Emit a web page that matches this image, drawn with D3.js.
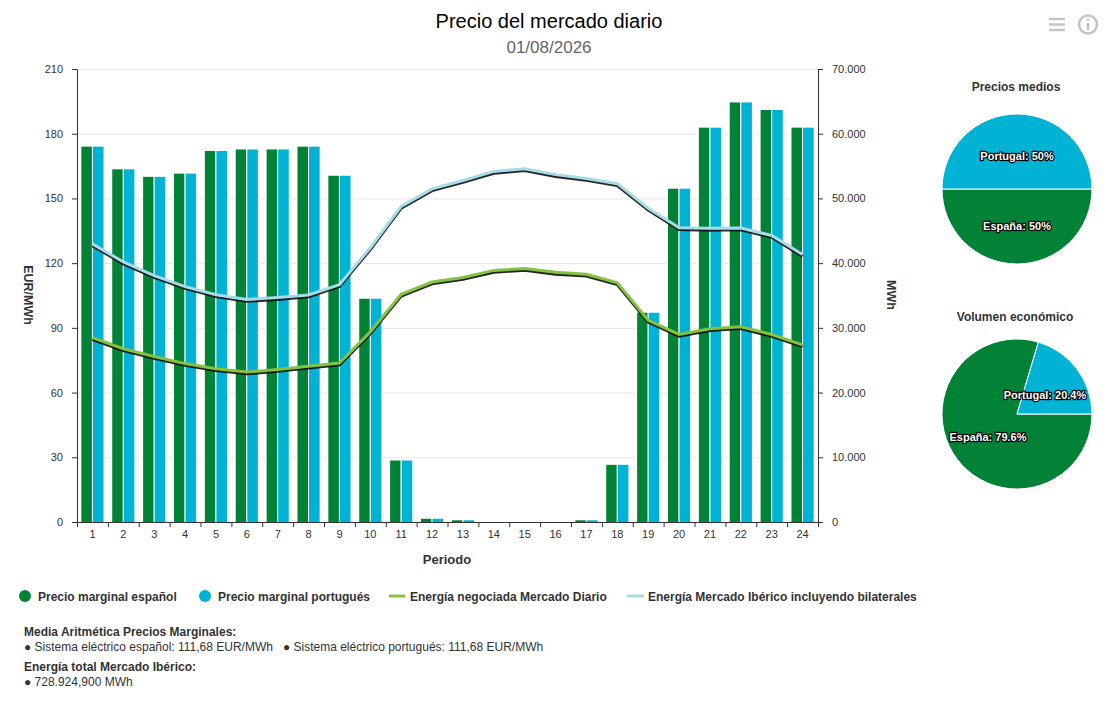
<!DOCTYPE html>
<html lang="es">
<head>
<meta charset="utf-8">
<title>Precio del mercado diario</title>
<script src="https://cdn.jsdelivr.net/npm/d3@7"></script>
<style>
    html, body { margin: 0; padding: 0; background: #fff; }
    svg { display: block; font-family: "Liberation Sans", Arial, sans-serif; }
    .axis text { font-size: 11px; fill: #333; font-family: "Liberation Sans", Arial, sans-serif; }
    .axis path, .axis line { stroke: #333; }
    .grid line { stroke: #e6e6e6; }
    .grid path { display: none; }
    .lbl { font-size: 12px; font-weight: bold; fill: #333; }
    .pie-label { font-size: 11px; font-weight: bold; fill: #fff; stroke: #000; stroke-width: 2.4px; paint-order: stroke; stroke-linejoin: round; }
</style>
</head>
<body>
<svg id="chart" width="1117" height="713"></svg>
<script>
'use strict';

const periods = d3.range(1, 25);
const precio_es = [174, 163.5, 160, 161.5, 172, 172.7, 172.7, 174, 160.5, 103.5, 28.5, 1.5, 0.8, 0, 0, 0, 0.8, 26.5, 97, 154.5, 182.8, 194.5, 191, 182.8];
const precio_pt = [174, 163.5, 160, 161.5, 172, 172.7, 172.7, 174, 160.5, 103.5, 28.5, 1.5, 0.8, 0, 0, 0, 0.8, 26.5, 97, 154.5, 182.8, 194.5, 191, 182.8];
const energia_diario = [28400, 26700, 25500, 24400, 23600, 23100, 23500, 24000, 24500, 29300, 35100, 37000, 37700, 38800, 39100, 38500, 38200, 36900, 31100, 28900, 29800, 30100, 28900, 27300];
const energia_iberico = [42900, 40100, 38000, 36300, 35050, 34300, 34600, 35000, 36600, 42300, 48700, 51400, 52700, 54100, 54500, 53600, 53000, 52200, 48400, 45400, 45300, 45350, 44200, 41250];
const pie_precios = [{ name: 'España', value: 50 }, { name: 'Portugal', value: 50 }];
const pie_volumen = [{ name: 'España', value: 79.6 }, { name: 'Portugal', value: 20.4 }];
const price_ticks = [0, 30, 60, 90, 120, 150, 180, 210];
const energy_ticks = [0, 10000, 20000, 30000, 40000, 50000, 60000, 70000];

const GREEN = '#028236', BLUE = '#00b2d3', LINE_GREEN = '#85c240', LINE_BLUE = '#a6dbe8';

const svg = d3.select('#chart');
const plot_left = 77, plot_right = 818, plot_top = 69, plot_bottom = 522;

const defs = svg.append('defs');
defs.append('filter').attr('id', 'line-shadow')
    .attr('x', '-5%').attr('y', '-20%').attr('width', '110%').attr('height', '140%')
    .append('feGaussianBlur').attr('stdDeviation', 0.55);

const x = d3.scaleBand().domain(periods).range([plot_left, plot_right]).paddingInner(0.25).paddingOuter(0.125);
const x_edges = d3.scaleLinear().domain([0, 24]).range([plot_left, plot_right]);
const x_group = d3.scaleBand().domain([0, 1]).range([0, x.bandwidth()]);
const y_price = d3.scaleLinear().domain([0, 210]).range([plot_bottom, plot_top]);
const y_energy = d3.scaleLinear().domain([0, 70000]).range([plot_bottom, plot_top]);

// grid first, the white rect under each bar cuts it
svg.append('g').attr('class', 'grid')
    .attr('transform', `translate(${plot_left},0)`)
    .call(d3.axisRight(y_price).tickValues(price_ticks.slice(1)).tickSize(plot_right - plot_left).tickFormat(''));

[[precio_es, 0, GREEN], [precio_pt, 1, BLUE]].forEach(([values, idx, color]) => {
    const g = svg.append('g');
    g.selectAll('rect.edge')
        .data(values).enter()
        .append('rect')
        .attr('class', 'edge')
        .attr('x', (d, i) => x(periods[i]) + x_group(idx) - 0.5)
        .attr('y', d => y_price(d) - 1)
        .attr('width', x_group.bandwidth() + 1)
        .attr('height', d => plot_bottom - y_price(d) + 1)
        .attr('fill', '#fff');
    g.selectAll('rect.bar')
        .data(values).enter()
        .append('rect')
        .attr('class', 'bar')
        .attr('x', (d, i) => x(periods[i]) + x_group(idx) + 0.5)
        .attr('y', d => y_price(d))
        .attr('width', x_group.bandwidth() - 1)
        .attr('height', d => plot_bottom - y_price(d))
        .attr('fill', color);
});

const line = d3.line()
    .x((d, i) => x(periods[i]) + x.bandwidth() / 2)
    .y(d => y_energy(d));

[[energia_diario, LINE_GREEN], [energia_iberico, LINE_BLUE]].forEach(([values, color]) => {
    svg.append('path').attr('d', line(values))
        .attr('fill', 'none').attr('stroke', '#111').attr('stroke-width', 3)
        .attr('stroke-opacity', 0.9)
        .attr('filter', 'url(#line-shadow)')
        .attr('transform', 'translate(0,1.3)');
    svg.append('path').attr('d', line(values))
        .attr('fill', 'none').attr('stroke', color).attr('stroke-width', 3)
        .attr('transform', 'translate(0,-0.5)');
});

// axes
svg.append('g').attr('class', 'axis')
    .attr('transform', `translate(${plot_left},0)`)
    .call(d3.axisLeft(y_price).tickValues(price_ticks).tickSize(5).tickSizeOuter(0).tickPadding(9));

svg.append('g').attr('class', 'axis')
    .attr('transform', `translate(${plot_right},0)`)
    .call(d3.axisRight(y_energy).tickValues(energy_ticks).tickSize(5).tickSizeOuter(0).tickPadding(9)
        .tickFormat(d => d === 0 ? '0' : d3.format(',')(d).replace(/,/g, '.')));

svg.append('g').attr('class', 'axis')
    .attr('transform', `translate(0,${plot_bottom})`)
    .call(d3.axisBottom(x_edges).ticks(24).tickSize(5).tickSizeOuter(0).tickFormat(''));

svg.append('g').attr('class', 'axis')
    .attr('transform', `translate(0,${plot_bottom})`)
    .call(d3.axisBottom(x).tickSize(0).tickPadding(8))
    .call(g => g.select('.domain').remove());

// titles
svg.append('text').attr('x', 549).attr('y', 28).attr('text-anchor', 'middle')
    .attr('font-size', 20).attr('fill', '#000').text('Precio del mercado diario');
svg.append('text').attr('x', 549).attr('y', 53).attr('text-anchor', 'middle')
    .attr('font-size', 17).attr('fill', '#666').text('01/08/2026');

svg.append('text').attr('class', 'lbl').attr('x', 447).attr('y', 564).attr('text-anchor', 'middle')
    .style('font-size', '13px').text('Periodo');
svg.append('text').attr('class', 'lbl').attr('text-anchor', 'middle').style('font-size', '12.5px')
    .attr('transform', 'translate(24,295) rotate(90)').text('EUR/MWh');
svg.append('text').attr('class', 'lbl').attr('text-anchor', 'middle').style('font-size', '12.5px')
    .attr('transform', 'translate(887,295) rotate(90)').text('MWh');

// pies
const drawPie = (data, title, cx, cy, title_x, title_y, label_at) => {
    const pie = d3.pie().sort(null).value(d => d.value).startAngle(Math.PI / 2).endAngle(Math.PI * 2.5);
    const arc = d3.arc().innerRadius(0).outerRadius(75);
    const g = svg.append('g').attr('transform', `translate(${cx},${cy})`);
    const arcs = pie(data);

    g.selectAll('path').data(arcs).enter().append('path')
        .attr('d', arc)
        .attr('fill', (d, i) => i ? BLUE : GREEN)
        .attr('stroke', '#fff')
        .attr('stroke-width', 1);

    g.selectAll('text').data(arcs).enter().append('text')
        .attr('class', 'pie-label')
        .attr('text-anchor', 'middle')
        .attr('x', (d, i) => label_at[i][0])
        .attr('y', (d, i) => label_at[i][1])
        .text(d => `${d.data.name}: ${d.data.value}%`);

    svg.append('text').attr('class', 'lbl').attr('x', title_x).attr('y', title_y).attr('text-anchor', 'middle').text(title);
};

drawPie(pie_precios, 'Precios medios', 1017, 189, 1016, 91, [[0, 41], [0, -29]]);
drawPie(pie_volumen, 'Volumen económico', 1017, 414, 1015, 321, [[-29, 27], [28, -15]]);

// legend
const legend = svg.append('g');
[[25, GREEN], [205, BLUE]].forEach(([cx, color]) => {
    legend.append('circle').attr('cx', cx).attr('cy', 596).attr('r', 6).attr('fill', color);
});
[[389, 405, LINE_GREEN], [627, 644, LINE_BLUE]].forEach(([x1, x2, color]) => {
    legend.append('line').attr('x1', x1).attr('x2', x2).attr('y1', 596).attr('y2', 596)
        .attr('stroke', color).attr('stroke-width', 3);
});
[[38, 'Precio marginal español'], [218, 'Precio marginal portugués'],
 [410, 'Energía negociada Mercado Diario'], [648, 'Energía Mercado Ibérico incluyendo bilaterales']].forEach(([tx, t]) => {
    legend.append('text').attr('class', 'lbl').attr('x', tx).attr('y', 601).text(t);
});

// footer
[[636, 'bold', 'Media Aritmética Precios Marginales:'],
 [651, 'normal', '● Sistema eléctrico español: 111,68 EUR/MWh   ● Sistema eléctrico portugués: 111,68 EUR/MWh'],
 [671, 'bold', 'Energía total Mercado Ibérico:'],
 [686, 'normal', '● 728.924,900 MWh']].forEach(([ty, weight, t]) => {
    svg.append('text').attr('x', 24).attr('y', ty).attr('font-size', 12)
        .attr('font-weight', weight).attr('fill', '#333')
        .style('white-space', 'pre').text(t);
});

// toolbar icons
const icons = svg.append('g').attr('stroke', '#c4c4c4').attr('fill', 'none');
[19, 24.5, 30].forEach(ly => {
    icons.append('line').attr('x1', 1049).attr('x2', 1065).attr('y1', ly).attr('y2', ly).attr('stroke-width', 2.5);
});
icons.append('circle').attr('cx', 1088).attr('cy', 24.5).attr('r', 9).attr('stroke-width', 2.5);
icons.append('line').attr('x1', 1088).attr('x2', 1088).attr('y1', 23).attr('y2', 30).attr('stroke-width', 2.5);
icons.append('line').attr('x1', 1088).attr('x2', 1088).attr('y1', 18.5).attr('y2', 21).attr('stroke-width', 2.5);
</script>
</body>
</html>
